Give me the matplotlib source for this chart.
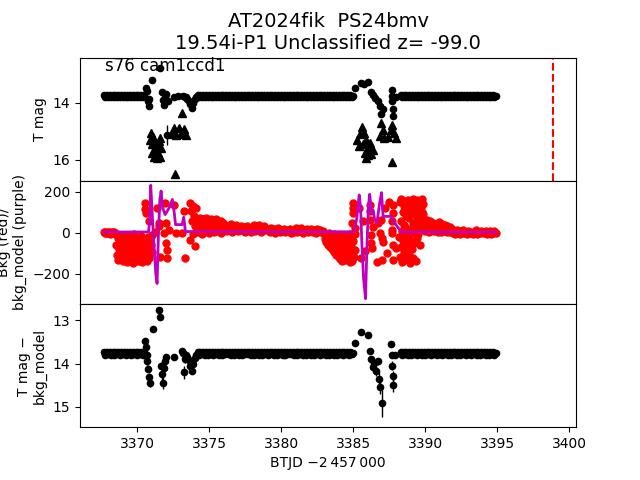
import matplotlib
matplotlib.use("Agg")
import matplotlib.pyplot as plt

# ---------------- data ----------------
# quiescent detections (shared by top and bottom panels)
base_t = [3367.7, 3367.8, 3367.9, 3368.0, 3368.1, 3368.2, 3368.3, 3368.4, 3368.5, 3368.6,
          3368.7, 3368.8, 3368.9, 3369.0, 3369.1, 3369.2, 3369.3, 3369.4, 3369.5, 3369.6,
          3369.7, 3369.8, 3369.9, 3370.0, 3370.1, 3370.2, 3370.3, 3370.4, 3370.5,
          3373.2, 3373.3, 3373.4, 3373.5, 3373.6, 3373.7, 3373.8, 3373.9, 3374.0, 3374.1,
          3374.2, 3374.3, 3374.4, 3374.5, 3374.6, 3374.7, 3374.8, 3374.9, 3375.0, 3375.1,
          3375.2, 3375.3, 3375.4, 3375.5, 3375.6, 3375.7, 3375.8, 3375.9, 3376.0, 3376.1,
          3376.2, 3376.3, 3376.4, 3376.5, 3376.6, 3376.7, 3376.8, 3376.9, 3377.0, 3377.1,
          3377.2, 3377.3, 3377.4, 3377.5, 3377.6, 3377.7, 3377.8, 3377.9, 3378.0, 3378.1,
          3378.2, 3378.3, 3378.4, 3378.5, 3378.6, 3378.7, 3378.8, 3378.9, 3379.0, 3379.1,
          3379.2, 3379.3, 3379.4, 3379.5, 3379.6, 3379.7, 3379.8, 3379.9, 3380.0, 3380.1,
          3380.2, 3380.3, 3380.4, 3380.5, 3380.6, 3380.7, 3380.8, 3380.9, 3381.0, 3381.1,
          3381.2, 3381.3, 3381.4, 3381.5, 3381.6, 3381.7, 3381.8, 3381.9, 3382.0, 3382.1,
          3382.2, 3382.3, 3382.4, 3382.5, 3382.6, 3382.7, 3382.8, 3382.9, 3383.0, 3383.1,
          3383.2, 3383.3, 3383.4, 3383.5, 3383.6, 3383.7, 3383.8, 3383.9, 3384.0, 3384.1,
          3384.2, 3384.3, 3384.4, 3384.5, 3384.6, 3384.7, 3384.8, 3384.9, 3385.0,
          3388.3, 3388.4, 3388.5, 3388.6, 3388.7, 3388.8, 3388.9, 3389.0, 3389.1, 3389.2,
          3389.3, 3389.4, 3389.5, 3389.6, 3389.7, 3389.8, 3389.9, 3390.0, 3390.1, 3390.2,
          3390.3, 3390.4, 3390.5, 3390.6, 3390.7, 3390.8, 3390.9, 3391.0, 3391.1, 3391.2,
          3391.3, 3391.4, 3391.5, 3391.6, 3391.7, 3391.8, 3391.9, 3392.0, 3392.1, 3392.2,
          3392.3, 3392.4, 3392.5, 3392.6, 3392.7, 3392.8, 3392.9, 3393.0, 3393.1, 3393.2,
          3393.3, 3393.4, 3393.5, 3393.6, 3393.7, 3393.8, 3393.9, 3394.0, 3394.1, 3394.2,
          3394.3, 3394.4, 3394.5, 3394.6, 3394.7, 3394.8, 3394.9]
base_mag = [13.72, 13.79, 13.73, 13.78, 13.72, 13.79, 13.73, 13.79, 13.72, 13.78,
            13.73, 13.79, 13.72, 13.78, 13.73, 13.79, 13.72, 13.78, 13.72, 13.79,
            13.73, 13.78, 13.72, 13.79, 13.73, 13.78, 13.72, 13.79, 13.73,
            13.76, 13.79, 13.80, 13.85, 13.92, 14.05, 14.17, 14.00, 13.88, 13.80,
            13.72, 13.79, 13.73, 13.78, 13.72, 13.79, 13.73, 13.79, 13.72, 13.78,
            13.73, 13.79, 13.72, 13.78, 13.73, 13.79, 13.72, 13.79, 13.73, 13.78,
            13.72, 13.78, 13.73, 13.79, 13.72, 13.79, 13.73, 13.78, 13.72, 13.79,
            13.73, 13.79, 13.72, 13.78, 13.73, 13.78, 13.72, 13.79, 13.73, 13.79,
            13.72, 13.78, 13.73, 13.79, 13.72, 13.79, 13.73, 13.78, 13.72, 13.79,
            13.73, 13.78, 13.72, 13.79, 13.73, 13.79, 13.72, 13.78, 13.73, 13.79,
            13.72, 13.79, 13.73, 13.78, 13.72, 13.78, 13.73, 13.79, 13.72, 13.79,
            13.73, 13.78, 13.72, 13.79, 13.73, 13.79, 13.72, 13.78, 13.73, 13.79,
            13.72, 13.79, 13.73, 13.78, 13.72, 13.79, 13.73, 13.78, 13.72, 13.79,
            13.73, 13.79, 13.72, 13.78, 13.73, 13.79, 13.72, 13.79, 13.73, 13.78,
            13.72, 13.79, 13.73, 13.78, 13.72, 13.79, 13.73, 13.78, 13.75,
            13.73, 13.79, 13.72, 13.78, 13.73, 13.79, 13.72, 13.79, 13.73, 13.78,
            13.72, 13.79, 13.73, 13.78, 13.72, 13.79, 13.73, 13.79, 13.72, 13.78,
            13.73, 13.79, 13.72, 13.78, 13.73, 13.79, 13.72, 13.78, 13.72, 13.79,
            13.73, 13.78, 13.72, 13.79, 13.73, 13.79, 13.72, 13.78, 13.73, 13.79,
            13.72, 13.79, 13.73, 13.78, 13.72, 13.79, 13.73, 13.78, 13.72, 13.79,
            13.73, 13.78, 13.72, 13.79, 13.73, 13.79, 13.72, 13.78, 13.73, 13.79,
            13.72, 13.79, 13.73, 13.78, 13.72, 13.79, 13.75]
base_err = 0.02

# flare-time detections, top panel
evt_t = [3370.62, 3370.68, 3370.74, 3370.80, 3370.86, 3371.04, 3371.62, 3371.70, 3371.78, 3371.86,
         3371.94, 3372.02, 3372.08, 3372.12, 3372.55, 3372.85,
         3385.10, 3385.58, 3385.75, 3386.00, 3386.27, 3386.40, 3386.55, 3386.70, 3386.85, 3386.95,
         3387.05, 3387.67, 3387.70, 3387.73, 3387.76, 3387.80, 3387.95]
evt_mag = [13.48, 13.60, 13.95, 14.10, 13.85, 13.19, 12.76, 13.62, 13.90, 14.08,
           13.80, 13.70, 15.12, 13.95, 13.78, 13.75,
           13.49, 13.30, 13.35, 13.26, 13.62, 13.72, 13.83, 13.95, 14.10, 14.40,
           14.20, 13.54, 13.75, 13.95, 14.20, 14.45, 13.80]
evt_err = [0.04, 0.05, 0.06, 0.07, 0.06, 0.05, 0.05, 0.06, 0.08, 0.09,
           0.07, 0.06, 0.35, 0.08, 0.06, 0.06,
           0.04, 0.05, 0.05, 0.05, 0.06, 0.06, 0.07, 0.08, 0.09, 0.10,
           0.09, 0.05, 0.07, 0.08, 0.10, 0.12, 0.06]

# upper limits (top panel)
lim_t = [3370.90, 3370.98, 3371.05, 3371.12, 3371.18, 3371.25, 3371.32, 3371.38, 3371.45, 3371.52,
         3371.58, 3371.65, 3371.15, 3371.40, 3371.05, 3371.60,
         3372.40, 3372.55, 3372.70, 3372.90, 3373.05, 3373.25, 3373.40, 3373.13, 3372.62,
         3385.30, 3385.45, 3385.60, 3385.75, 3385.90, 3385.40, 3385.70, 3386.00, 3386.20, 3386.35,
         3385.80, 3386.05, 3386.25, 3385.90,
         3386.85, 3386.95, 3387.05, 3387.15, 3387.45, 3387.60, 3387.72, 3387.85, 3387.95, 3387.67]
lim_mag = [15.30, 15.05, 15.45, 15.20, 15.65, 15.40, 15.85, 15.55, 15.75, 15.35,
           15.90, 15.60, 15.90, 15.95, 15.75, 15.25,
           15.10, 14.90, 15.12, 14.90, 15.10, 14.92, 15.12, 14.35, 16.50,
           15.30, 15.10, 14.85, 15.05, 15.30, 15.50, 15.45, 15.55, 15.40, 15.65,
           15.75, 15.85, 15.80, 15.95,
           15.15, 14.70, 14.95, 15.25, 15.20, 14.95, 14.78, 15.05, 15.25, 16.08]

# flare-time points, bottom panel (T mag - bkg_model)
sub_t = [3370.57, 3370.62, 3370.67, 3370.72, 3370.77, 3370.82, 3370.88, 3371.08, 3371.55, 3371.58,
         3371.68, 3371.74, 3371.78, 3371.90, 3371.97, 3372.02, 3372.54, 3373.15, 3373.25, 3373.30,
         3385.10, 3385.56, 3386.03, 3386.15, 3386.25, 3386.35, 3386.48, 3386.60, 3386.72, 3386.80,
         3386.85, 3386.97, 3387.62, 3387.67, 3387.71, 3387.74, 3387.78, 3387.90]
sub_mag = [13.48, 13.62, 13.80, 13.95, 14.12, 14.30, 14.45, 13.19, 12.75, 12.93,
           14.05, 14.25, 14.45, 14.10, 13.95, 13.85, 13.84, 13.70, 14.20, 13.90,
           13.52, 13.26, 13.33, 13.70, 13.90, 14.08, 13.98, 14.18, 13.95, 14.35,
           14.55, 14.92, 13.55, 13.80, 14.05, 14.28, 14.50, 13.80]
sub_err = [0.04, 0.05, 0.06, 0.07, 0.08, 0.09, 0.10, 0.05, 0.05, 0.05,
           0.08, 0.12, 0.14, 0.09, 0.08, 0.07, 0.06, 0.06, 0.15, 0.08,
           0.04, 0.05, 0.05, 0.07, 0.08, 0.09, 0.08, 0.10, 0.08, 0.15,
           0.15, 0.32, 0.06, 0.08, 0.10, 0.12, 0.15, 0.06]

# background flux (red points)
bkg_t = [3367.70, 3367.75, 3367.80, 3367.85, 3367.90, 3367.95, 3368.00, 3368.05, 3368.10, 3368.15,
         3368.20, 3368.25, 3368.30, 3368.35, 3368.40, 3368.45,
         3368.50, 3368.55, 3368.60, 3368.65, 3368.70, 3368.75, 3368.80, 3368.85, 3368.90, 3368.95,
         3369.00, 3369.05, 3369.10, 3369.15, 3369.20, 3369.25, 3369.30, 3369.35, 3369.40, 3369.45,
         3369.50, 3369.55, 3369.60, 3369.65, 3369.70, 3369.75, 3369.80, 3369.85, 3369.90, 3369.95,
         3370.00, 3370.05, 3370.10, 3370.15, 3370.20, 3370.25, 3370.30, 3370.35, 3370.40, 3370.45,
         3370.50, 3370.55, 3370.60, 3370.65, 3370.70, 3370.75, 3370.80, 3370.85, 3370.90,
         3370.55, 3370.58, 3370.62, 3370.80, 3370.92, 3370.95, 3371.04, 3371.06, 3371.27, 3371.39,
         3371.50, 3371.55, 3371.62, 3371.85, 3371.97, 3371.99, 3372.04, 3372.06, 3372.09, 3372.20,
         3372.55, 3372.67, 3373.13, 3373.24, 3373.36,
         3373.65, 3373.70, 3373.75, 3373.80, 3373.85, 3373.90, 3373.95, 3374.00, 3374.05, 3374.10, 3374.15,
         3374.20, 3374.25, 3374.30, 3374.35, 3374.40, 3374.45, 3374.50, 3374.55, 3374.60, 3374.65,
         3374.70, 3374.75, 3374.80, 3374.85, 3374.90, 3374.95, 3375.00, 3375.05, 3375.10, 3375.15,
         3375.20, 3375.25, 3375.30, 3375.35, 3375.40, 3375.45, 3375.50, 3375.55, 3375.60, 3375.65,
         3375.70, 3375.75, 3375.80, 3375.85, 3375.90, 3375.95, 3376.00,
         3376.1, 3376.2, 3376.3, 3376.4, 3376.5, 3376.6, 3376.7, 3376.8, 3376.9, 3377.0,
         3377.1, 3377.2, 3377.3, 3377.4, 3377.5, 3377.6, 3377.7, 3377.8, 3377.9, 3378.0,
         3378.1, 3378.2, 3378.3, 3378.4, 3378.5, 3378.6, 3378.7, 3378.8, 3378.9, 3379.0,
         3379.1, 3379.2, 3379.3, 3379.4, 3379.5, 3379.6, 3379.7, 3379.8, 3379.9, 3380.0,
         3380.1, 3380.2, 3380.3, 3380.4, 3380.5, 3380.6, 3380.7, 3380.8, 3380.9, 3381.0,
         3381.1, 3381.2, 3381.3, 3381.4, 3381.5, 3381.6, 3381.7, 3381.8, 3381.9, 3382.0,
         3382.1, 3382.2, 3382.3, 3382.4, 3382.5, 3382.6, 3382.7, 3382.8, 3382.9,
         3383.00, 3383.05, 3383.10, 3383.15, 3383.20, 3383.25, 3383.30, 3383.35, 3383.40, 3383.45,
         3383.50, 3383.55, 3383.60, 3383.65, 3383.70, 3383.75, 3383.80, 3383.85, 3383.90, 3383.95,
         3384.00, 3384.05, 3384.10, 3384.15, 3384.20, 3384.25, 3384.30, 3384.35, 3384.40, 3384.45,
         3384.50, 3384.55, 3384.60, 3384.65, 3384.70, 3384.75, 3384.80, 3384.85, 3384.90, 3384.95,
         3385.00, 3385.05, 3385.10,
         3385.00, 3385.00, 3385.02, 3384.95, 3385.11, 3385.12, 3385.40, 3385.58, 3385.65, 3385.80,
         3386.15, 3386.20, 3386.18, 3386.25, 3386.27, 3386.30, 3386.40, 3386.63, 3386.97, 3386.74,
         3386.85, 3386.97, 3387.05, 3386.95, 3387.20, 3387.35, 3387.79, 3387.79, 3387.67, 3387.67,
         3387.70, 3387.79, 3387.79, 3387.50, 3387.95,
         3388.20, 3388.23, 3388.26, 3388.29, 3388.32, 3388.35, 3388.38, 3388.41, 3388.44, 3388.47,
         3388.50, 3388.53, 3388.56, 3388.59, 3388.62, 3388.65, 3388.68, 3388.71, 3388.74, 3388.77,
         3388.80, 3388.83, 3388.86, 3388.89, 3388.92, 3388.95, 3388.98, 3389.01, 3389.04, 3389.07,
         3389.10, 3389.13, 3389.16, 3389.19, 3389.22, 3389.25, 3389.28, 3389.31, 3389.34, 3389.37,
         3389.40, 3389.43, 3389.46, 3389.49, 3389.52, 3389.55, 3389.58, 3389.61, 3389.64, 3389.67,
         3389.70, 3389.73, 3389.76, 3389.79, 3389.82, 3389.85, 3389.88,
         3389.95, 3390.00, 3390.05, 3390.10, 3390.15, 3390.20, 3390.25, 3390.30, 3390.35, 3390.40,
         3390.45, 3390.50, 3390.55, 3390.60, 3390.65, 3390.70, 3390.75, 3390.80, 3390.85, 3390.90,
         3390.95, 3391.00, 3391.05, 3391.10, 3391.15, 3391.20, 3391.25, 3391.30, 3391.35, 3391.40,
         3391.45, 3391.50, 3391.55, 3391.60, 3391.65, 3391.70, 3391.75, 3391.80, 3391.85, 3391.90,
         3392.0, 3392.1, 3392.2, 3392.3, 3392.4, 3392.5, 3392.6, 3392.7, 3392.8, 3392.9,
         3393.0, 3393.1, 3393.2, 3393.3, 3393.4, 3393.5, 3393.6, 3393.7, 3393.8, 3393.9,
         3394.0, 3394.1, 3394.2, 3394.3, 3394.4, 3394.5, 3394.6, 3394.7, 3394.8, 3394.9]
bkg_val = [3, -2, 4, 0, -3, 2, 5, -1, 1, -4, 3, 0, 6, -2, 2, -1,
           -5, -60, -110, -25, -135, -80, -15, -120, -50, -95,
           -140, -35, -70, -125, -10, -100, -145, -55, -85, -20,
           -130, -65, -115, -40, -150, -90, -5, -75, -135, -45,
           -105, -25, -140, -60, -120, -15, -95, -145, -50, -80,
           -130, -30, -110, -70, -140, -20, -100, -125, -55,
           147, 114, 98, 56, -43, -59, -10, -92, 5, 122,
           48, 31, -117, 0, 147, 48, -51, -84, -125, 15,
           138, -2, 0, 105, -125,
           147, -33, 107, 58, 131, -8, 82, -66, 33, 120, 10,
           60, 5, 45, 70, 20, 55, -5, 35, 65, 15,
           50, 30, 72, 10, 40, 58, 0, 28, 48, 68,
           12, 38, 62, 2, 52, 25, 66, 8, 42, 56,
           18, 32, 60, -2, 46, 22, 50,
           40, 10, 35, 20, 45, 5, 30, 15, 38, 8,
           25, 35, 12, 28, 5, 32, 18, 22, 3, 26,
           36, 10, 30, 16, 40, 6, 24, 34, 12, 20,
           15, 2, 22, 8, 18, 0, 12, 25, 5, 16,
           10, 20, 3, 14, 8, 18, 1, 12, 6, 22,
           4, 16, 10, 24, -2, 14, 8, 19, 2, 12,
           20, 5, 15, 0, 18, 9, 13, 3, 11,
           -5, -30, -10, -45, -20, -60, 0, -35, -70, -15,
           -50, -80, -25, -95, -5, -60, -110, -40, -85, -15,
           -120, -55, -130, -20, -100, -140, -70, -10, -115, -45,
           -135, -90, -30, -125, -60, -145, -5, -105, -75, -140,
           -40, -120, -85,
           147, 122, 98, 48, 25, -5, 120, -125, 60, -90,
           138, 107, 64, -10, -51, -76, 30, -141, -133, 48,
           0, -25, -43, 63, 120, -100, 138, 97, 56, 15,
           -2, -59, -133, 150, -76,
           -20, 150, -120, 60, -70, 165, 10, -145, 100, -40,
           130, -100, 40, -15, 155, -130, 80, -60, 120, -90,
           20, 160, -110, 70, -35, 140, -150, 95, 0, 125,
           -80, 50, 165, -125, 110, -50, 30, 145, -140, 85,
           -25, 160, 60, 135, -5, 115, 40, 150, 75, -60,
           125, 20, 100, 165, 55, 140, 90,
           55, 10, 40, 62, 20, 48, 5, 35, 58, 15,
           42, 25, 50, 8, 30, 45, 12, 28, 38, 5,
           52, 18, 36, 2, 44, 22, 30, 10, 38, 16,
           26, 4, 32, 12, 22, 6, 28, 14, 18, 0,
           10, -5, 14, 2, -8, 8, 12, -3, 6, -6,
           10, 0, 4, -4, 2, 12, -8, 6, 0, 9,
           -2, 5, 11, -6, 3, 7, -4, 1, 8, 0]

# background model (purple line)
model_t = [3367.7, 3370.80, 3370.87, 3370.95, 3371.02, 3371.10, 3371.20, 3371.30, 3371.39, 3371.48,
           3371.58, 3371.67, 3371.76, 3371.86, 3371.95, 3372.05, 3372.25, 3372.45, 3372.58, 3372.67,
           3373.13, 3373.24, 3373.36, 3380.0, 3384.95, 3385.10, 3385.25, 3385.35, 3385.42, 3385.52,
           3385.60, 3385.72, 3385.86, 3385.96, 3386.06, 3386.15, 3386.27, 3386.38, 3386.50, 3386.65,
           3386.85, 3386.97, 3387.08, 3387.67, 3387.80, 3388.14, 3388.35, 3394.9]
model_val = [4, 4, 60, 232, 140, 30, -90, -200, -248, -20,
             160, 204, 130, 105, 89, 100, 125, 163, 100, 40,
             40, 76, 6, 5, 5, 10, 70, 140, 185, 120,
             -43, -220, -322, -60, 130, 188, 97, 110, 64, 48,
             150, 196, 80, 80, 55, 23, 4, 3]

disc_t = 3398.9  # red dashed line

title_text = "AT2024fik  PS24bmv\n19.54i-P1 Unclassified z= -99.0"
field_text = "s76 cam1ccd1"

# ---------------- plot ----------------
fig, (ax1, ax2, ax3) = plt.subplots(3, 1, sharex=True, figsize=(6.4, 4.8), dpi=100)
fig.subplots_adjust(hspace=0)

ms_base = 4.5
ms_evt = 4.5
ax1.errorbar(base_t, base_mag, yerr=base_err, fmt='o', color='k', ms=ms_base, lw=1)
ax1.errorbar(evt_t, evt_mag, yerr=evt_err, fmt='o', color='k', ms=ms_evt, lw=1)
ax1.plot(lim_t, lim_mag, '^', color='k', ms=6, ls='none')
ax1.axvline(disc_t, color='r', ls='--', lw=1.5)
ax1.set_ylim(16.74, 12.41)
ax1.set_yticks([14, 16])
ax1.set_ylabel("T mag")
ax1.set_title(title_text, fontsize=14)
ax1.text(0.05, 0.895, field_text, transform=ax1.transAxes, fontsize=12, va='baseline')

ax2.plot(bkg_t, bkg_val, 'o', color='r', ms=5, ls='none')
ax2.plot(model_t, model_val, '-', color='m', lw=2)
ax2.set_ylim(-348, 254)
ax2.set_yticks([-200, 0, 200])
ax2.set_ylabel("Bkg (red)/\nbkg_model (purple)")

ax3.errorbar(base_t, base_mag, yerr=base_err, fmt='o', color='k', ms=ms_base, lw=1)
ax3.errorbar(sub_t, sub_mag, yerr=sub_err, fmt='o', color='k', ms=ms_evt, lw=1)
ax3.set_ylim(15.47, 12.62)
ax3.set_yticks([13, 14, 15])
ax3.set_ylabel("T mag \u2212\nbkg_model")
ax3.set_xlim(3366.04, 3400.47)
ax3.set_xticks([3370, 3375, 3380, 3385, 3390, 3395, 3400])
ax3.set_xlabel("BTJD \u22122\u2009457\u2009000")

fig.savefig("out.png", dpi=100)
